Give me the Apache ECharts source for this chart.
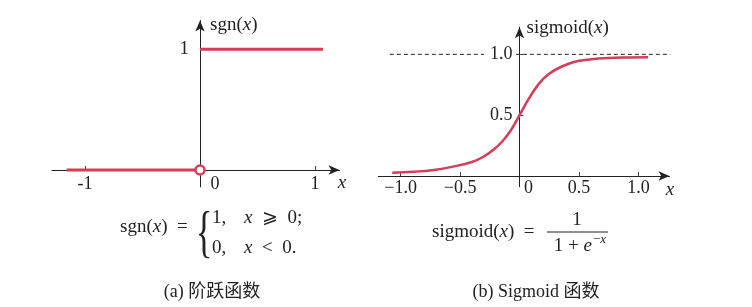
<!DOCTYPE html>
<html>
<head>
<meta charset="utf-8">
<script src="https://cdn.jsdelivr.net/npm/echarts@6/dist/echarts.min.js"></script>
<style>
  html, body { margin: 0; padding: 0; background: #fff; }
  #chart { width: 752px; height: 307px; }
</style>
</head>
<body>
<div id="chart"></div>
<script>
// (a) 阶跃函数
const stepLow = [[-1.16, 0], [0, 0]]
const stepHigh = [[0, 1], [1.07, 1]]
const stepHole = [[0, 0]]
const sgnXTicks = [-1, 0, 1]
const sgnYTicks = [1]

// (b) Sigmoid 函数
const sigmoidX = [-1.07, -0.89, -0.72, -0.56, -0.4, -0.3, -0.22, -0.14, -0.07, 0, 0.074, 0.16, 0.24, 0.355, 0.49, 0.66, 0.86, 1.08]
const sigmoidY = [0.027, 0.035, 0.05, 0.077, 0.115, 0.16, 0.215, 0.29, 0.38, 0.5, 0.63, 0.755, 0.835, 0.9, 0.945, 0.965, 0.974, 0.976]
const guideLine = [[-1.09, 1], [1.265, 1]]
const sigXTicks = [-1, -0.5, 0, 0.5, 1]
const sigYTicks = [0.5, 1]

const RED = '#d43d58'
const INK = '#222'
const SERIF = '"Liberation Serif", "DejaVu Serif", serif'
const CJK = '"Liberation Serif", "Noto Sans CJK SC", serif'

const italic = { fontFamily: SERIF, fontStyle: 'italic', fontSize: 19, color: INK }
const zeroPad = (n) => ({ fontFamily: SERIF, fontSize: 18, color: INK, padding: [0, 0, 0, n] })

const myChart = echarts.init(document.getElementById('chart'))

const option = {
  animation: false,
  backgroundColor: '#fff',
  grid: [
    { left: 52, top: 20.5, width: 287.5, height: 166.4 },
    { left: 378.3, top: 27.2, width: 291.2, height: 159.5 },
  ],
  xAxis: [
    {
      gridIndex: 0,
      type: 'value',
      min: -1.287,
      max: 1.213,
      offset: -16.9, // 把x轴移到 y=0 处
      splitLine: { show: false },
      axisLine: {
        onZero: false,
        symbol: ['none', 'arrow'],
        symbolSize: [7, 11],
        lineStyle: { color: INK, width: 1 },
      },
      axisTick: { customValues: [-1, 1], inside: true, length: 4, lineStyle: { color: '#444' } },
      axisLabel: {
        customValues: sgnXTicks,
        margin: 5,
        fontFamily: SERIF,
        fontSize: 18,
        color: INK,
        formatter: (v) => (v === 0 ? '{o|0}' : String(v)),
        rich: { o: zeroPad(30) },
      },
      name: 'x',
      nameLocation: 'end',
      nameGap: 2.5,
      nameTextStyle: { ...italic, align: 'center', verticalAlign: 'top', padding: [3, 0, 0, 0] },
    },
    {
      gridIndex: 1,
      type: 'value',
      min: -1.187,
      max: 1.26,
      offset: -10.7,
      splitLine: { show: false },
      axisLine: {
        onZero: false,
        symbol: ['none', 'arrow'],
        symbolSize: [7, 11],
        lineStyle: { color: INK, width: 1 },
      },
      axisTick: { customValues: [-1, -0.5, 0.5, 1], inside: true, length: 4, lineStyle: { color: '#444' } },
      axisLabel: {
        customValues: sigXTicks,
        margin: 3,
        fontFamily: SERIF,
        fontSize: 18,
        color: INK,
        formatter: (v) => (v === 0 ? '{o|0}' : (v < 0 ? '\u2212' : '') + Math.abs(v).toFixed(1)),
        rich: { o: zeroPad(18) },
      },
      name: 'x',
      nameLocation: 'end',
      nameGap: 0.5,
      nameTextStyle: { ...italic, align: 'center', verticalAlign: 'top', padding: [4, 0, 0, 0] },
    },
  ],
  yAxis: [
    {
      gridIndex: 0,
      type: 'value',
      min: -0.14,
      max: 1.239,
      offset: -148, // 把y轴移到 x=0 处
      splitLine: { show: false },
      axisLine: {
        onZero: false,
        symbol: ['none', 'arrow'],
        symbolSize: [7, 11],
        lineStyle: { color: INK, width: 1 },
      },
      axisTick: { show: false },
      axisLabel: { customValues: sgnYTicks, margin: 11, fontFamily: SERIF, fontSize: 19, color: INK },
      name: 'sgn({i|x})',
      nameLocation: 'end',
      nameGap: -4.5,
      nameTextStyle: {
        fontFamily: SERIF, fontSize: 19, color: INK,
        align: 'left', verticalAlign: 'middle', padding: [0, 0, 0, 10],
        rich: { i: italic },
      },
    },
    {
      gridIndex: 1,
      type: 'value',
      min: -0.088,
      max: 1.223,
      offset: -141.2,
      z: 3,
      splitLine: { show: false },
      axisLine: {
        onZero: false,
        symbol: ['none', 'arrow'],
        symbolSize: [7, 11],
        lineStyle: { color: INK, width: 1 },
      },
      axisTick: { customValues: sigYTicks, inside: true, length: 4, lineStyle: { color: '#444' } },
      axisLabel: {
        customValues: sigYTicks,
        margin: 4,
        fontFamily: SERIF,
        fontSize: 18,
        color: INK,
        backgroundColor: '#fff',
        padding: [0, 3, 0, 6],
        formatter: (v) => v.toFixed(1),
      },
      name: 'sigmoid({i|x})',
      nameLocation: 'end',
      nameGap: -1,
      nameTextStyle: {
        fontFamily: SERIF, fontSize: 19, color: INK,
        align: 'left', verticalAlign: 'middle', padding: [0, 0, 0, 7],
        rich: { i: italic },
      },
    },
  ],
  series: [
    {
      type: 'line',
      xAxisIndex: 0,
      yAxisIndex: 0,
      data: stepLow,
      symbol: 'none',
      lineStyle: { color: RED, width: 3 },
    },
    {
      type: 'line',
      xAxisIndex: 0,
      yAxisIndex: 0,
      data: stepHigh,
      symbol: 'none',
      lineStyle: { color: RED, width: 3 },
    },
    {
      type: 'scatter',
      xAxisIndex: 0,
      yAxisIndex: 0,
      data: stepHole,
      symbol: 'circle',
      symbolSize: 9,
      z: 5,
      itemStyle: { color: '#fff', borderColor: RED, borderWidth: 2.5, opacity: 1 },
    },
    {
      type: 'line',
      xAxisIndex: 1,
      yAxisIndex: 1,
      data: guideLine,
      symbol: 'none',
      z: 2,
      lineStyle: { color: INK, width: 1, type: [4, 3] },
    },
    {
      type: 'line',
      xAxisIndex: 1,
      yAxisIndex: 1,
      data: sigmoidX.map((x, i) => [x, sigmoidY[i]]),
      symbol: 'none',
      smooth: 0.4,
      z: 4,
      lineStyle: { color: RED, width: 2.5 },
    },
  ],
  graphic: [
    // sgn(x) 公式
    {
      type: 'text', x: 120, y: 227,
      style: { text: 'sgn({i|x})  =', fontFamily: SERIF, fontSize: 19, fill: INK, align: 'left', verticalAlign: 'middle', rich: { i: italic } },
    },
    {
      type: 'text', x: 204, y: 236, scaleX: 0.6,
      style: { text: '{', fontFamily: SERIF, fontSize: 58, fill: INK, align: 'center', verticalAlign: 'middle' },
    },
    {
      type: 'text', x: 212, y: 218,
      style: { text: '1,', fontFamily: SERIF, fontSize: 19, fill: INK, align: 'left', verticalAlign: 'middle' },
    },
    {
      type: 'text', x: 244, y: 218,
      style: { text: '{i|x}  \u2a7e  0;', fontFamily: SERIF, fontSize: 19, fill: INK, align: 'left', verticalAlign: 'middle', rich: { i: italic } },
    },
    {
      type: 'text', x: 212, y: 248,
      style: { text: '0,', fontFamily: SERIF, fontSize: 19, fill: INK, align: 'left', verticalAlign: 'middle' },
    },
    {
      type: 'text', x: 244, y: 248,
      style: { text: '{i|x}  <  0.', fontFamily: SERIF, fontSize: 19, fill: INK, align: 'left', verticalAlign: 'middle', rich: { i: italic } },
    },
    {
      type: 'text', x: 212, y: 292,
      style: { text: '(a) 阶跃函数', fontFamily: CJK, fontSize: 18, fill: INK, align: 'center', verticalAlign: 'middle' },
    },
    // sigmoid(x) 公式
    {
      type: 'text', x: 432, y: 232,
      style: { text: 'sigmoid({i|x})  =', fontFamily: SERIF, fontSize: 19, fill: INK, align: 'left', verticalAlign: 'middle', rich: { i: italic } },
    },
    {
      type: 'text', x: 577, y: 220,
      style: { text: '1', fontFamily: SERIF, fontSize: 19, fill: INK, align: 'center', verticalAlign: 'middle' },
    },
    {
      type: 'line',
      shape: { x1: 547, y1: 232, x2: 608, y2: 232 },
      style: { stroke: INK, lineWidth: 1 },
    },
    {
      type: 'text', x: 592, y: 246,
      style: { text: '1 + {i|e}', fontFamily: SERIF, fontSize: 19, fill: INK, align: 'right', verticalAlign: 'middle', rich: { i: italic } },
    },
    {
      type: 'text', x: 593, y: 240,
      style: { text: '\u2212{s|x}', fontFamily: SERIF, fontSize: 13, fill: INK, align: 'left', verticalAlign: 'middle', rich: { s: { ...italic, fontSize: 13 } } },
    },
    {
      type: 'text', x: 536, y: 292,
      style: { text: '(b) Sigmoid 函数', fontFamily: CJK, fontSize: 18, fill: INK, align: 'center', verticalAlign: 'middle' },
    },
  ],
}

myChart.setOption(option)
window.addEventListener('resize', () => myChart && myChart.resize())
</script>
</body>
</html>
